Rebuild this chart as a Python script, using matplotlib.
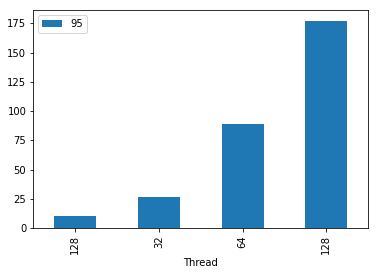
import matplotlib
matplotlib.use("Agg")
import matplotlib.pyplot as plt
import numpy as np

# Datos
threads = ["128", "32", "64", "128"]
valores_95 = [10.5, 26.8, 89.2, 177.3]

fig = plt.figure(figsize=(378 / 72, 275 / 72), dpi=72)
ax = fig.add_axes([0.088, 0.17, 0.886, 0.7925])

x = np.arange(len(threads))
ax.bar(x, valores_95, width=0.5, color="#1f77b4", label="95")
ax.set_xticks(x)
ax.set_xticklabels(threads, rotation=90)
ax.set_xlim(-0.5, len(threads) - 0.5)
ax.set_xlabel("Thread")
ax.legend(loc="upper left")

fig.savefig("out.png", dpi=72)
